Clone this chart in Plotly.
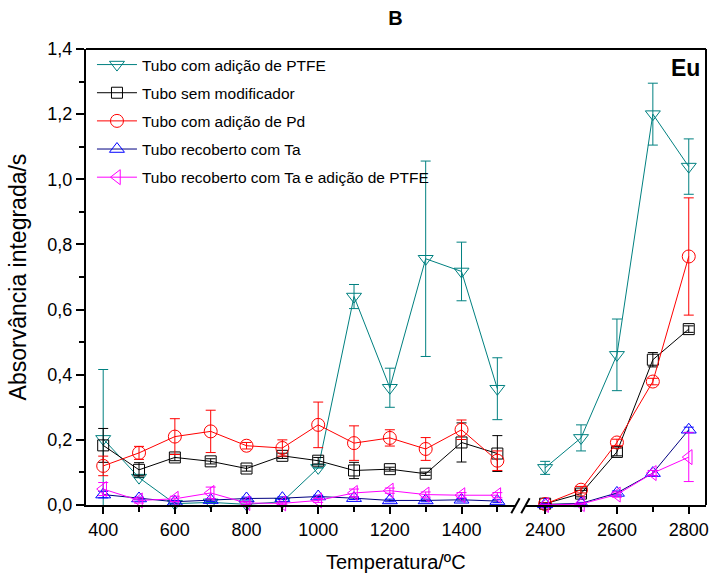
import plotly.graph_objects as go

# ---------------- data ----------------
temps_low = [400, 500, 600, 700, 800, 900, 1000, 1100, 1200, 1300, 1400, 1500]
temps_high = [2400, 2500, 2600, 2700, 2800]

names = [
    "Tubo com adição de PTFE",
    "Tubo sem modificador",
    "Tubo com adição de Pd",
    "Tubo recoberto com Ta",
    "Tubo recoberto com Ta e adição de PTFE",
]

ptfe_low = [0.203, 0.084, 0.004, 0.008, 0.002, 0.010, 0.114, 0.640, 0.360, 0.756, 0.717, 0.357]
ptfe_low_err = [0.213, 0.0, 0.0, 0.0, 0.0, 0.0, 0.0, 0.037, 0.060, 0.300, 0.090, 0.095]
ptfe_high = [0.114, 0.206, 0.461, 1.200, 1.039]
ptfe_high_err = [0.020, 0.040, 0.110, 0.095, 0.085]

sem_low = [0.183, 0.108, 0.146, 0.134, 0.112, 0.151, 0.136, 0.106, 0.110, 0.096, 0.192, 0.158]
sem_low_err = [0.052, 0.022, 0.010, 0.008, 0.008, 0.008, 0.010, 0.025, 0.006, 0.005, 0.060, 0.055]
sem_high = [0.004, 0.035, 0.163, 0.446, 0.540]
sem_high_err = [0.003, 0.010, 0.012, 0.022, 0.010]

pd_low = [0.120, 0.160, 0.210, 0.226, 0.182, 0.175, 0.246, 0.190, 0.206, 0.172, 0.231, 0.136]
pd_low_err = [0.030, 0.020, 0.055, 0.065, 0.010, 0.025, 0.070, 0.053, 0.025, 0.035, 0.030, 0.030]
pd_high = [0.003, 0.047, 0.192, 0.379, 0.763]
pd_high_err = [0.003, 0.010, 0.010, 0.010, 0.180]

ta_low = [0.032, 0.020, 0.010, 0.015, 0.020, 0.021, 0.026, 0.021, 0.014, 0.014, 0.016, 0.012]
ta_low_err = [0.010, 0.004, 0.004, 0.004, 0.004, 0.004, 0.004, 0.004, 0.004, 0.004, 0.004, 0.004]
ta_high = [0.002, 0.005, 0.037, 0.098, 0.231]
ta_high_err = [0.002, 0.003, 0.006, 0.008, 0.008]

tap_low = [0.049, 0.014, 0.019, 0.037, 0.006, 0.005, 0.014, 0.037, 0.044, 0.032, 0.030, 0.030]
tap_low_err = [0.020, 0.008, 0.008, 0.018, 0.004, 0.004, 0.006, 0.012, 0.008, 0.008, 0.008, 0.008]
tap_high = [0.000, 0.003, 0.032, 0.098, 0.147]
tap_high_err = [0.002, 0.003, 0.008, 0.008, 0.075]

y_ticks = [0.0, 0.2, 0.4, 0.6, 0.8, 1.0, 1.2, 1.4]
x_ticks_low = [400, 600, 800, 1000, 1200, 1400]
x_ticks_high = [2400, 2600, 2800]

# ---------------- styles ----------------
series = [
    (names[0], ptfe_low, ptfe_low_err, ptfe_high, ptfe_high_err, "#008080", "#008080", "triangle-down-open", 13),
    (names[1], sem_low, sem_low_err, sem_high, sem_high_err, "#000000", "#000000", "square-open", 11),
    (names[2], pd_low, pd_low_err, pd_high, pd_high_err, "#FF0000", "#FF0000", "circle-open", 13),
    (names[3], ta_low, ta_low_err, ta_high, ta_high_err, "#000080", "#0000FF", "triangle-up-open", 13),
    (names[4], tap_low, tap_low_err, tap_high, tap_high_err, "#FF00FF", "#FF00FF", "triangle-left-open", 13),
]

FONT = "Liberation Sans, Arial, sans-serif"
fig = go.Figure()

for i, (nm, yl, el, yh, eh, lc, mc, sym, sz) in enumerate(series):
    for seg, (xs, ys, es, xa) in enumerate([(temps_low, yl, el, "x"), (temps_high, yh, eh, "x2")]):
        fig.add_trace(go.Scatter(
            x=xs, y=ys, xaxis=xa, yaxis="y",
            mode="lines+markers",
            name=nm, legendgroup=nm, showlegend=(seg == 0),
            line=dict(color=lc, width=1),
            marker=dict(symbol=sym, size=sz, color=mc, line=dict(color=mc, width=1)),
            error_y=dict(type="data", array=es, visible=True, color=mc, thickness=1, width=5),
            cliponaxis=False,
        ))

W, H = 712, 575
L, R, T, B = 86, 3, 49, 70
pw = W - L - R
ph = H - T - B

def px_x(p):
    return (p - L) / pw

def px_y(p):
    return (H - B - p) / ph

axis_common = dict(
    showline=True, linecolor="black", linewidth=2,
    ticks="outside", tickcolor="black", tickwidth=2,
    showgrid=False, zeroline=False,
    tickfont=dict(family=FONT, size=18, color="black"),
)

fig.update_layout(
    width=W, height=H,
    margin=dict(l=L, r=R, t=T, b=B),
    paper_bgcolor="white", plot_bgcolor="white",
    separators=",.",
    font=dict(family=FONT, color="black"),
    title=dict(text="<b>B</b>", x=px_x(397), xref="paper", xanchor="center",
               y=1 - 18 / H, yref="container", yanchor="middle",
               font=dict(family=FONT, size=20, color="black")),
    xaxis=dict(domain=[0, px_x(517.7)], range=[352, 1551], anchor="y",
               tickvals=x_ticks_low, ticklen=7,
               minor=dict(dtick=100, tick0=400, ticks="outside", ticklen=5, tickwidth=2, tickcolor="black"),
               **axis_common),
    xaxis2=dict(domain=[px_x(527.7), 1], range=[2345.6, 2848], anchor="y",
                tickvals=x_ticks_high, ticklen=7,
                minor=dict(dtick=100, tick0=2400, ticks="outside", ticklen=5, tickwidth=2, tickcolor="black"),
                **axis_common),
    yaxis=dict(range=[0, 1.4], tickvals=y_ticks, tickformat=".1f", ticklen=8,
               minor=dict(dtick=0.1, ticks="outside", ticklen=5, tickwidth=2, tickcolor="black"),
               title=dict(text="Absorvância integrada/s", standoff=14,
                          font=dict(family=FONT, size=23, color="black")),
               **axis_common),
    legend=dict(x=px_x(92), y=px_y(48), xanchor="left", yanchor="top",
                bgcolor="rgba(0,0,0,0)", font=dict(family=FONT, size=15.5, color="black"),
                tracegroupgap=5, itemwidth=40),
    showlegend=True,
)

# frame: top and right
fig.add_shape(type="line", xref="paper", yref="paper", x0=0, x1=1, y0=1, y1=1,
              line=dict(color="black", width=2))
fig.add_shape(type="line", xref="paper", yref="paper", x0=1, x1=1, y0=0, y1=1,
              line=dict(color="black", width=2))
# axis break marks
for x0p, x1p in [(513.3, 521.7), (523.3, 531.7)]:
    fig.add_shape(type="line", xref="paper", yref="paper",
                  x0=px_x(x0p), x1=px_x(x1p), y0=px_y(513.3), y1=px_y(498.3),
                  line=dict(color="black", width=2))

fig.add_annotation(text="Temperatura/ºC", xref="paper", yref="paper",
                   x=px_x(397), y=px_y(562), xanchor="center", yanchor="middle",
                   showarrow=False, font=dict(family=FONT, size=20, color="black"))
fig.add_annotation(text="<b>Eu</b>", xref="paper", yref="paper",
                   x=px_x(705), y=px_y(68), xanchor="right", yanchor="middle",
                   showarrow=False, font=dict(family=FONT, size=23, color="black"))

fig.write_html("out.html", config={"displayModeBar": False},
               post_script="document.body.style.margin='0px';document.body.style.overflow='hidden';")
